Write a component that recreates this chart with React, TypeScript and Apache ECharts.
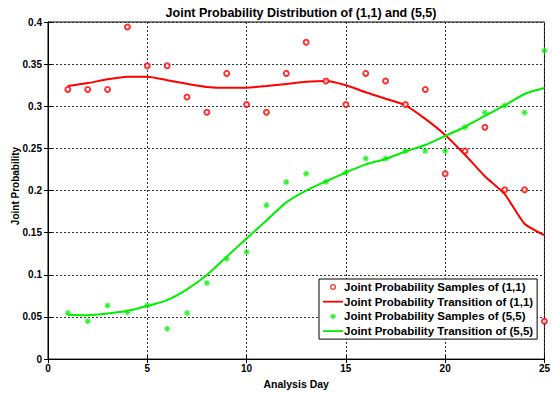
import React, { useEffect, useRef } from "react";
import * as echarts from "echarts";

const days = [1,2,3,4,5,6,7,8,9,10,11,12,13,14,15,16,17,18,19,20,21,22,23,24,25];
const samples11 = [0.320,0.320,0.320,0.394,0.348,0.348,0.311,0.293,0.339,0.302,0.293,0.339,0.376,0.330,0.302,0.339,0.330,0.302,0.320,0.220,0.247,0.275,0.201,0.201,0.045];
const transition11 = [0.324,0.3275,0.332,0.335,0.335,0.331,0.3267,0.323,0.322,0.322,0.324,0.3265,0.329,0.330,0.325,0.3166,0.309,0.301,0.285,0.266,0.2425,0.217,0.1957,0.1606,0.147];
const samples55 = [0.0546,0.045,0.0635,0.0553,0.0635,0.036,0.0546,0.0904,0.119,0.127,0.1825,0.210,0.220,0.2105,0.2214,0.238,0.238,0.247,0.247,0.247,0.275,0.2925,0.301,0.2925,0.366];
const transition55 = [0.0526,0.052,0.054,0.0573,0.063,0.070,0.0827,0.0998,0.1216,0.143,0.1645,0.186,0.200,0.211,0.2214,0.231,0.2374,0.2464,0.254,0.2647,0.2757,0.2885,0.301,0.3146,0.3216];

const xTicks = [0, 5, 10, 15, 20, 25];
const yTicks = [0, 0.05, 0.1, 0.15, 0.2, 0.25, 0.3, 0.35, 0.4];

const seriesNames = [
  "Joint Probability Samples of (1,1)",
  "Joint Probability Transition of (1,1)",
  "Joint Probability Samples of (5,5)",
  "Joint Probability Transition of (5,5)",
];

const FONT = "Liberation Sans, Arial, sans-serif";
const RED = "#ff0000";
const GREEN = "#00ee00";

const STAR =
  "path://M-0.6,-3h1.2v6h-1.2zM-3,-0.6h6v1.2h-6z" +
  "M-1.68,-2.52L2.52,1.68L1.68,2.52L-2.52,-1.68z" +
  "M1.68,-2.52L2.52,-1.68L-1.68,2.52L-2.52,1.68z";
const ICON_STAR =
  "path://M0,0M20,14M9.4,4.2h1.2v5.6h-1.2zM7.2,6.4h5.6v1.2h-5.6z" +
  "M8.4,4.6L12.4,8.6L11.6,9.4L7.6,5.4zM11.6,4.6L12.4,5.4L8.4,9.4L7.6,8.6z";
const ICON_RING = "path://M0,0M20,14M7,7a3,3 0 1,1 6,0a3,3 0 1,1 -6,0zM8.3,7a1.7,1.7 0 1,0 3.4,0a1.7,1.7 0 1,0 -3.4,0z";
const ICON_LINE = "path://M0,0M20,14M0,6.1h20v1.8h-20z";

export default function App() {
  const ref = useRef<HTMLDivElement>(null);
  useEffect(() => {
    if (!ref.current) return;
    const chart = echarts.init(ref.current, null, { renderer: "svg" });
    const pair = (ys: number[]) => days.map((d, i) => [d, ys[i]]);
    const axisLabel = { color: "#000", fontFamily: FONT, fontSize: 10, fontWeight: "bold" as const };
    const grid = { show: true, type: [2, 2], color: "#333", width: 1 };
    chart.setOption({
      animation: false,
      backgroundColor: "#fff",
      title: {
        text: "Joint Probability Distribution of (1,1) and (5,5)",
        left: 296, top: 1, textAlign: "center",
        textStyle: { fontFamily: FONT, fontSize: 12.5, fontWeight: "bold", color: "#000" },
      },
      graphic: [
        {
          type: "text", x: 15, y: 186, rotation: Math.PI / 2,
          style: {
            text: "Joint Probability", align: "center", verticalAlign: "middle",
            fontFamily: FONT, fontSize: 10, fontWeight: "bold", fill: "#000",
          },
        },
      ],
      grid: { left: 48, right: 5, top: 22, bottom: 30, show: true, borderColor: "#000", borderWidth: 1 },
      xAxis: [
        {
          type: "value", min: xTicks[0], max: xTicks[xTicks.length - 1], interval: 5,
          name: "Analysis Day", nameLocation: "middle", nameGap: 15,
          nameTextStyle: { fontFamily: FONT, fontSize: 10.5, fontWeight: "bold", color: "#000" },
          axisLine: { lineStyle: { color: "#000" } },
          axisTick: { inside: true, length: 4, lineStyle: { color: "#000" } },
          axisLabel: { ...axisLabel, margin: 4 },
          splitLine: { show: true, lineStyle: grid },
        },
        {
          type: "value", min: xTicks[0], max: xTicks[xTicks.length - 1], interval: 5, position: "top",
          axisLine: { lineStyle: { color: "#000" } },
          axisTick: { inside: true, length: 4, lineStyle: { color: "#000" } },
          axisLabel: { show: false }, splitLine: { show: false },
        },
      ],
      yAxis: [
        {
          type: "value", min: yTicks[0], max: yTicks[yTicks.length - 1], interval: 0.05,
          axisLine: { show: true, lineStyle: { color: "#000" } },
          axisTick: { show: true, inside: true, length: 4, lineStyle: { color: "#000" } },
          axisLabel: { ...axisLabel, margin: 6, formatter: (v: number) => String(+v.toFixed(2)) },
          splitLine: { show: true, lineStyle: grid },
        },
        {
          type: "value", min: yTicks[0], max: yTicks[yTicks.length - 1], interval: 0.05, position: "right",
          axisLine: { show: true, lineStyle: { color: "#000" } },
          axisTick: { show: true, inside: true, length: 4, lineStyle: { color: "#000" } },
          axisLabel: { show: false }, splitLine: { show: false },
        },
      ],
      legend: {
        orient: "vertical", left: 319, top: 279,
        backgroundColor: "#fff", borderColor: "#000", borderWidth: 1,
        padding: [1, 4, 1, 4], itemGap: 0.7, itemWidth: 20, itemHeight: 14,
        textStyle: {
          fontFamily: FONT, fontSize: 11.5, fontWeight: "bold", color: "#000",
          lineHeight: 14, padding: [0, 0, 0, -4],
        },
        data: [
          { name: seriesNames[0], icon: ICON_RING },
          { name: seriesNames[1], icon: ICON_LINE },
          { name: seriesNames[2], icon: ICON_STAR },
          { name: seriesNames[3], icon: ICON_LINE },
        ],
      },
      series: [
        {
          name: seriesNames[0], type: "scatter", data: pair(samples11),
          symbol: "emptyCircle", symbolSize: 5,
          itemStyle: { color: RED, borderWidth: 1.3 },
          z: 3,
        },
        {
          name: seriesNames[1], type: "line", data: pair(transition11),
          symbol: "none", smooth: 0.2, lineStyle: { color: RED, width: 2 }, itemStyle: { color: RED },
          z: 2,
        },
        {
          name: seriesNames[2], type: "scatter", data: pair(samples55),
          symbol: STAR, symbolSize: 6,
          itemStyle: { color: GREEN },
          z: 3,
        },
        {
          name: seriesNames[3], type: "line", data: pair(transition55),
          symbol: "none", smooth: 0.2, lineStyle: { color: GREEN, width: 2 }, itemStyle: { color: GREEN },
          z: 2,
        },
      ],
    });
    return () => chart.dispose();
  }, []);
  return <div ref={ref} style={{ position: "fixed", left: 0, top: 0, width: 553, height: 394 }} />;
}
